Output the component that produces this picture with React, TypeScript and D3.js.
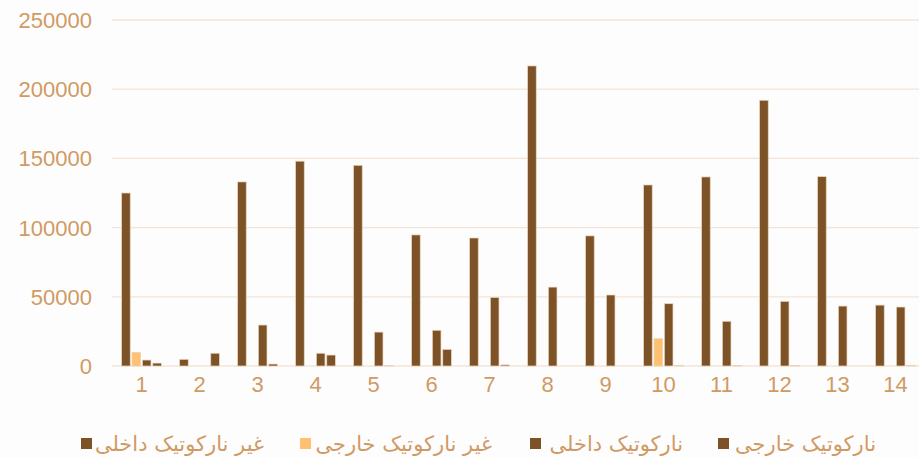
import React, { useRef, useEffect } from 'react';
import * as d3 from 'd3';

const categories = ['1', '2', '3', '4', '5', '6', '7', '8', '9', '10', '11', '12', '13', '14'];
const seriesNames = ['غیر نارکوتیک داخلی', 'غیر نارکوتیک خارجی', 'نارکوتیک داخلی', 'نارکوتیک خارجی'];
const seriesColors = ['#7e5227', '#ffc170', '#7e5227', '#7e5227'];

const nonNarcoticDomestic = [125000, 4800, 133000, 148000, 145000, 94700, 92500, 216800, 94000, 130800, 136600, 192000, 136800, 44000];
const nonNarcoticForeign = [9900, 0, 0, 0, 0, 0, 0, 0, 0, 19700, 0, 0, 0, 0];
const narcoticDomestic = [4300, 0, 29600, 9200, 24500, 25800, 49500, 57000, 51300, 45000, 32300, 46700, 43300, 42600];
const narcoticForeign = [2100, 9200, 1400, 7900, 400, 12000, 800, 0, 0, 400, 400, 400, 0, 400];

const yTicks = [0, 50000, 100000, 150000, 200000, 250000];

const W = 919;
const H = 458;
const textColor = '#d09a64';
const gridColor = '#f3e4d6';

const App = () => {
  const svgRef = useRef<SVGSVGElement>(null);

  useEffect(() => {
    const svg = d3.select(svgRef.current);
    svg.selectAll('*').remove();

    const series = [nonNarcoticDomestic, nonNarcoticForeign, narcoticDomestic, narcoticForeign];

    const x0 = d3.scaleBand().domain(categories).range([112.5, 924.5]).paddingInner(0.284).paddingOuter(0.142);
    const x1 = d3.scaleBand().domain(d3.range(series.length).map(String)).range([0, x0.bandwidth()]);
    const y = d3.scaleLinear().domain([0, 250000]).range([366, 20]);

    svg.append('rect').attr('width', W).attr('height', H).attr('fill', '#fdfdfd');

    // gridlines
    svg.append('g').selectAll('line').data(yTicks).enter().append('line')
      .attr('x1', 112).attr('x2', W).attr('y1', d => y(d)).attr('y2', d => y(d))
      .attr('stroke', gridColor).attr('stroke-width', 1.3);

    // y labels
    svg.append('g').selectAll('text').data(yTicks).enter().append('text')
      .attr('x', 92).attr('y', d => y(d)).attr('dy', '0.36em')
      .attr('text-anchor', 'end').attr('fill', textColor)
      .attr('font-family', 'Liberation Sans, Arial, sans-serif').attr('font-size', 22)
      .text(d => d);

    // bars
    const groups = svg.append('g').selectAll('g').data(categories).enter().append('g')
      .attr('transform', d => `translate(${x0(d)},0)`);
    groups.selectAll('rect').data((_, i) => series.map((s, k) => ({ k, v: s[i] })))
      .enter().filter(d => d.v > 0).append('rect')
      .attr('x', d => (x1(String(d.k)) as number) + 0.9)
      .attr('width', x1.bandwidth() - 1.8)
      .attr('y', d => y(d.v))
      .attr('height', d => y(0) - y(d.v))
      .attr('fill', d => seriesColors[d.k])
      .attr('stroke', '#e9d3bd').attr('stroke-width', 0.7);

    // x labels
    svg.append('g').selectAll('text').data(categories).enter().append('text')
      .attr('x', d => (x0(d) as number) + x0.bandwidth() / 2).attr('y', 392)
      .attr('text-anchor', 'middle').attr('fill', textColor)
      .attr('font-family', 'Liberation Sans, Arial, sans-serif').attr('font-size', 22)
      .text(d => d);

    // legend: marker on the left, RTL text ending at its right edge
    const markerX = [81, 300, 530, 718];
    const textEnd = [264, 492, 683, 876];
    const lg = svg.append('g').selectAll('g').data(seriesNames).enter().append('g');
    lg.append('rect').attr('x', (_, i) => markerX[i]).attr('y', 438)
      .attr('width', 11).attr('height', 11).attr('fill', (_, i) => seriesColors[i]);
    lg.append('text').attr('x', (_, i) => textEnd[i]).attr('y', 451)
      .attr('text-anchor', 'end')
      .attr('fill', textColor)
      .attr('font-family', 'DejaVu Sans, sans-serif').attr('font-size', 21)
      .text(d => d);
  }, []);

  return (
    <div style={{ position: 'fixed', left: 0, top: 0 }}>
      <svg ref={svgRef} width={W} height={H} style={{ display: 'block' }} />
    </div>
  );
};

export default App;
